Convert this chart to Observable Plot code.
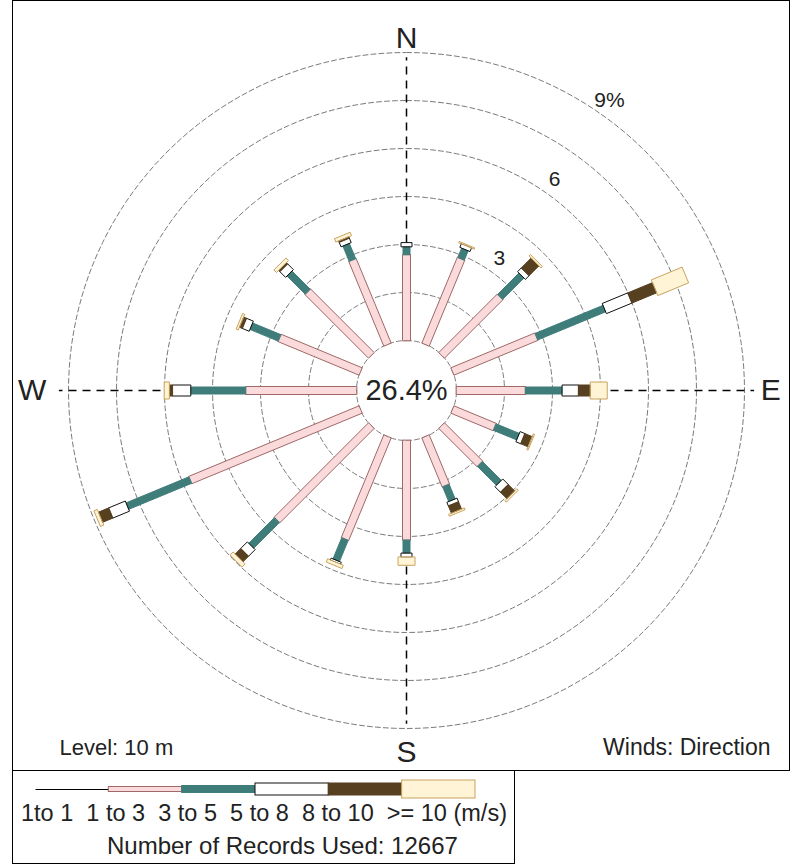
<!DOCTYPE html>
<html>
<head>
<meta charset="utf-8">
<script src="https://cdn.jsdelivr.net/npm/d3@7"></script>
<script src="https://cdn.jsdelivr.net/npm/@observablehq/plot@0.6"></script>
<style>
  body { margin: 0; background: #fff; font-family: "Liberation Sans", Arial, sans-serif; color: #222; }
  #page { position: relative; width: 792px; height: 864px; overflow: hidden; background: #fff; }
  #chart { position: absolute; left: 12px; top: 0; width: 778px; height: 771px; box-sizing: border-box; border: 1px solid #000; }
  #legend { position: absolute; left: 12px; top: 770px; width: 503px; height: 94px; box-sizing: border-box; border: 1px solid #000; }
  #legend svg, #chart svg { display: block; position: absolute; left: 0; top: 0; }
  .legend-text { position: absolute; white-space: pre; line-height: 24px; }
  #class-labels { left: 8px; top: 30px; font-size: 23.5px; }
  #records { left: 94px; top: 63px; font-size: 24px; }
</style>
</head>
<body>
<div id="page">
  <div id="chart"></div>
  <div id="legend">
    <div id="class-labels" class="legend-text"></div>
    <div id="records" class="legend-text"></div>
  </div>
</div>
<script>
// ---- Wind rose data: frequency (%) per direction and wind speed class ----
const directions = ["N", "NNE", "NE", "ENE", "E", "ESE", "SE", "SSE",
                    "S", "SSW", "SW", "WSW", "W", "WNW", "NW", "NNW"];
const speedClasses = ["1to 1", "1 to 3", "3 to 5", "5 to 8", "8 to 10", ">= 10"];
const speedUnit = "(m/s)";

const freq1to1    = [0, 0, 0, 0, 0, 0, 0, 0, 0, 0, 0, 0, 0, 0, 0, 0];
const freq1to3    = [2.69, 2.90, 2.58, 2.84, 2.16, 1.43, 1.69, 1.66, 3.12, 3.47, 4.17, 5.76, 3.47, 2.74, 2.81, 2.86];
const freq3to5    = [0.25, 0.32, 0.95, 2.30, 1.15, 0.79, 0.84, 0.50, 0.41, 0.72, 1.14, 2.13, 1.72, 0.96, 0.81, 0.52];
const freq5to8    = [0.12, 0.12, 0.16, 0.86, 0.51, 0.16, 0.24, 0.12, 0.12, 0.06, 0.29, 0.56, 0.57, 0.23, 0.25, 0.15];
const freq8to10   = [0, 0, 0.44, 0.84, 0.37, 0.25, 0.29, 0.25, 0, 0, 0.25, 0.35, 0.10, 0.10, 0.06, 0.05];
const freqAbove10 = [0, 0.03, 0.05, 1.03, 0.52, 0.03, 0.05, 0.05, 0.25, 0.10, 0.12, 0.10, 0.15, 0.06, 0.10, 0.10];

const calmPercent = 26.4;
const recordsUsed = 12667;
const ringValues = [0, 1.5, 3, 4.5, 6, 7.5, 9];
const ringLabelValues = [3, 6, 9];
const compassLabels = ["N", "E", "S", "W"];
const levelText = "Level: 10 m";
const windsText = "Winds: Direction";

// ---- Drawing styles for each speed class ----
const classStyles = [
  {width: 1,  fill: "#000000", stroke: "#000000"},
  {width: 8,  fill: "#fadada", stroke: "#a06868"},
  {width: 7,  fill: "#3f7d7b", stroke: "#3f7d7b"},
  {width: 11, fill: "#ffffff", stroke: "#111111"},
  {width: 11, fill: "#574020", stroke: "#574020"},
  {width: 17, fill: "#fff5d6", stroke: "#c9a25e"}
];
const legendHeights = [1, 5, 7, 12, 12, 18];

// ---- Geometry: percent units on a polar layout ----
const PX_PER_PCT = 32;                  // pixels per 1 % of frequency
const CALM_R = 50 / PX_PER_PCT;         // radius of the calm hole
const W = 776, H = 769, CX = 393, CY = 389;

function polar(angleDeg, r) {
  const t = angleDeg * Math.PI / 180;
  return [r * Math.sin(t), r * Math.cos(t)];
}

// stacked segments of each petal
const classFreqs = [freq1to1, freq1to3, freq3to5, freq5to8, freq8to10, freqAbove10];
const segments = [];
directions.forEach((dir, i) => {
  const angle = i * 360 / directions.length;
  let cum = 0;
  classFreqs.forEach((series, k) => {
    const v = series[i];
    if (v > 0) segments.push({id: `${dir}-${k}`, angle, cls: k, r0: CALM_R + cum, r1: CALM_R + cum + v});
    cum += v;
  });
});

// each segment becomes a rotated rectangle
function segmentPolygon(s) {
  const t = s.angle * Math.PI / 180;
  const ux = Math.sin(t), uy = Math.cos(t);
  const nx = Math.cos(t), ny = -Math.sin(t);
  const h = classStyles[s.cls].width / 2 / PX_PER_PCT;
  return [[s.r0, -h], [s.r1, -h], [s.r1, h], [s.r0, h]]
    .map(([r, o]) => ({id: s.id, x: r * ux + o * nx, y: r * uy + o * ny}));
}

// ring circles
const ringPoints = ringValues.flatMap(v =>
  d3.range(0, 360, 2).map(a => {
    const [x, y] = polar(a, CALM_R + v);
    return {ring: v, x, y};
  })
);

// dashed compass axes, from the calm circle outward
const axisLines = [0, 90, 180, 270].map(a => {
  const ext = (a % 180 === 0) ? 8.85 : 9.3;
  const [x1, y1] = polar(a, CALM_R);
  const [x2, y2] = polar(a, CALM_R + ext);
  return {x1, y1, x2, y2};
});

const LABEL_R = CALM_R + 9.6;
const compass = compassLabels.map((t, i) => {
  const [x, y] = polar(i * 90, LABEL_R);
  return {t, x, y};
});

const petalMarks = classStyles.map((st, k) =>
  Plot.line(
    segments.filter(s => s.cls === k).flatMap(segmentPolygon),
    {x: "x", y: "y", z: "id", curve: "linear-closed",
     fill: st.fill, stroke: st.stroke, strokeWidth: 1, strokeOpacity: 1}
  )
);

const chart = Plot.plot({
  width: W,
  height: H,
  margin: 0,
  x: {domain: [-CX / PX_PER_PCT, (W - CX) / PX_PER_PCT], axis: null},
  y: {domain: [-(H - CY) / PX_PER_PCT, CY / PX_PER_PCT], axis: null},
  style: {fontFamily: "'Liberation Sans', Arial, sans-serif", background: "transparent", color: "#222"},
  marks: [
    Plot.line(ringPoints, {x: "x", y: "y", z: "ring", curve: "linear-closed",
      stroke: "#7a7a7a", strokeWidth: 1, strokeDasharray: "5,3"}),
    Plot.link(axisLines, {x1: "x1", y1: "y1", x2: "x2", y2: "y2",
      stroke: "#000", strokeWidth: 1.5, strokeDasharray: "8,6"}),
    ...petalMarks,
    Plot.text([calmPercent], {x: () => polar(0, 0)[0], y: () => polar(0, 0)[1],
      text: d => `${d.toFixed(1)}%`, fontSize: 29, fill: "#222"}),
    Plot.text(ringLabelValues, {
      x: d => polar(35, CALM_R + d + 0.5)[0],
      y: d => polar(35, CALM_R + d + 0.5)[1],
      text: d => d === ringLabelValues[ringLabelValues.length - 1] ? `${d}%` : `${d}`,
      fontSize: 21, fill: "#222"}),
    Plot.text(compass.filter(c => c.t === "N" || c.t === "S"),
      {x: "x", y: "y", text: "t", fontSize: 30, dy: 5, fill: "#222"}),
    Plot.text(compass.filter(c => c.t === "W"),
      {x: "x", y: "y", text: "t", fontSize: 30, textAnchor: "end", dx: -3, fill: "#222"}),
    Plot.text(compass.filter(c => c.t === "E"),
      {x: "x", y: "y", text: "t", fontSize: 30, textAnchor: "start", dx: -3, fill: "#222"}),
    Plot.text([levelText], {text: d => d, frameAnchor: "bottom-left", textAnchor: "start",
      lineAnchor: "middle", dx: 46, dy: -23, fontSize: 22, fill: "#222"}),
    Plot.text([windsText], {text: d => d, frameAnchor: "bottom-right", textAnchor: "end",
      lineAnchor: "middle", dx: -19, dy: -23, fontSize: 23, fill: "#222"})
  ]
});
document.getElementById("chart").append(chart);

// ---- Legend: one swatch per speed class ----
const legendItems = speedClasses.map((label, k) => ({k, label, h: legendHeights[k], ...classStyles[k]}));
const legendPlot = Plot.plot({
  width: 501,
  height: 38,
  marginLeft: 22,
  marginRight: 39,
  marginTop: 0,
  marginBottom: 0,
  x: {domain: [0, speedClasses.length], axis: null},
  y: {domain: [-20, 18], axis: null},
  color: {type: "identity"},
  marks: [
    Plot.link(legendItems.filter(d => d.k === 0),
      {x1: d => d.k, x2: d => d.k + 1, y1: () => 0, y2: () => 0, stroke: "#000", strokeWidth: 1}),
    Plot.rect(legendItems.filter(d => d.k > 0),
      {x1: d => d.k, x2: d => d.k + 1, y1: d => -d.h / 2, y2: d => d.h / 2,
       fill: d => d.fill, stroke: d => d.stroke, strokeWidth: 1})
  ]
});
document.getElementById("legend").prepend(legendPlot);
document.getElementById("class-labels").textContent = speedClasses.join("  ") + " " + speedUnit;
document.getElementById("records").textContent = `Number of Records Used: ${recordsUsed}`;
</script>
</body>
</html>
